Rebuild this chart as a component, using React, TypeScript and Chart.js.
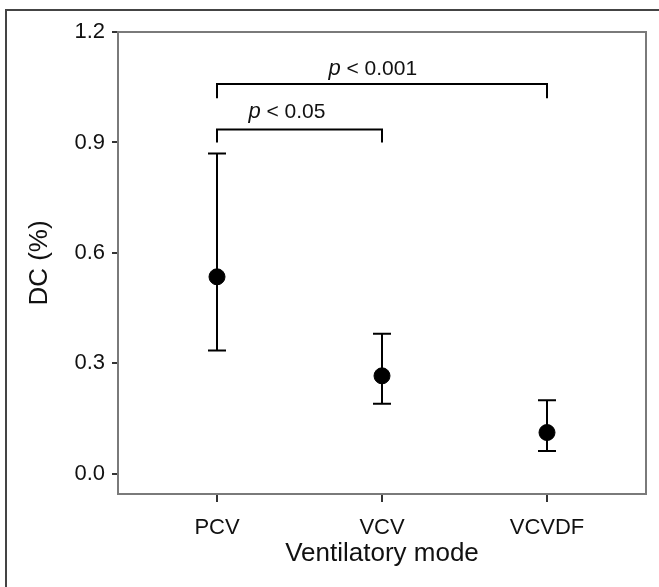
import React, { useEffect, useRef } from 'react';
import { Chart, registerables } from 'chart.js';

Chart.register(...registerables);

// ---- data ----
const categories = ['PCV', 'VCV', 'VCVDF'];
const means = [0.535, 0.266, 0.112];
const upperCI = [0.87, 0.38, 0.2];
const lowerCI = [0.335, 0.19, 0.062];
const yTickValues = [0.0, 0.3, 0.6, 0.9, 1.2];

// significance brackets (category indices, data-unit heights)
const bracketFrom = [0, 0];
const bracketTo = [2, 1];
const bracketLevel = [1.059, 0.935];
const bracketFoot = [1.02, 0.9];
const bracketText = ['< 0.001', '< 0.05'];
const bracketTextX = [1.944, 1.424];
const bracketTextY = [1.084, 0.967];

const FONT = "'Liberation Sans', Arial, Helvetica, sans-serif";

const annotPlugin = {
  id: 'annot',
  beforeDatasetsDraw(chart: any) {
    const { ctx, scales } = chart;
    const x = scales.x;
    const y = scales.y;
    ctx.save();
    ctx.strokeStyle = '#000';
    ctx.lineWidth = 2;
    categories.forEach((_, i) => {
      const px = x.getPixelForValue(i + 1);
      const t = y.getPixelForValue(upperCI[i]);
      const b = y.getPixelForValue(lowerCI[i]);
      ctx.beginPath();
      ctx.moveTo(px, t);
      ctx.lineTo(px, b);
      ctx.moveTo(px - 9, t);
      ctx.lineTo(px + 9, t);
      ctx.moveTo(px - 9, b);
      ctx.lineTo(px + 9, b);
      ctx.stroke();
    });
    ctx.restore();
  },
  afterDraw(chart: any) {
    const { ctx, scales, chartArea } = chart;
    const x = scales.x;
    const y = scales.y;
    ctx.save();
    // plot box
    ctx.strokeStyle = '#7a7a7a';
    ctx.lineWidth = 2;
    ctx.strokeRect(chartArea.left, chartArea.top, chartArea.right - chartArea.left, chartArea.bottom - chartArea.top);

    // brackets
    ctx.strokeStyle = '#000';
    ctx.lineWidth = 2;
    bracketFrom.forEach((f, i) => {
      const x1 = x.getPixelForValue(f + 1);
      const x2 = x.getPixelForValue(bracketTo[i] + 1);
      const yl = y.getPixelForValue(bracketLevel[i]);
      const yf = y.getPixelForValue(bracketFoot[i]);
      ctx.beginPath();
      ctx.moveTo(x1, yf);
      ctx.lineTo(x1, yl);
      ctx.lineTo(x2, yl);
      ctx.lineTo(x2, yf);
      ctx.stroke();

      // label: italic p + rest
      const italic = `italic 22px ${FONT}`;
      const normal = `21px ${FONT}`;
      ctx.font = italic;
      const wp = ctx.measureText('p').width;
      ctx.font = normal;
      const rest = ' ' + bracketText[i];
      const wr = ctx.measureText(rest).width;
      const cx = x.getPixelForValue(bracketTextX[i]);
      const by = y.getPixelForValue(bracketTextY[i]);
      const sx = cx - (wp + wr) / 2;
      ctx.fillStyle = '#111';
      ctx.textBaseline = 'alphabetic';
      ctx.textAlign = 'left';
      ctx.font = italic;
      ctx.fillText('p', sx, by);
      ctx.font = normal;
      ctx.fillText(rest, sx + wp, by);
    });
    ctx.restore();
  },
};

export default function App() {
  const ref = useRef<HTMLCanvasElement | null>(null);

  useEffect(() => {
    if (!ref.current) return;
    const chart = new Chart(ref.current, {
      type: 'scatter',
      data: {
        datasets: [
          {
            data: means.map((m, i) => ({ x: i + 1, y: m })),
            backgroundColor: '#000',
            borderColor: '#000',
            borderWidth: 1,
            pointRadius: 8,
            pointHoverRadius: 8,
          },
        ],
      },
      options: {
        animation: false,
        responsive: false,
        events: [],
        layout: { padding: { left: 0, top: 32, right: 13, bottom: 0 } },
        plugins: { legend: { display: false }, tooltip: { enabled: false } },
        scales: {
          x: {
            type: 'linear',
            min: 0.4,
            max: 3.6,
            afterBuildTicks: (s: any) => {
              s.ticks = categories.map((_, i) => ({ value: i + 1 }));
            },
            afterFit: (s: any) => {
              s.height = 93;
            },
            border: { display: false },
            grid: { drawOnChartArea: false, drawTicks: true, tickLength: 8, color: '#333', lineWidth: 2 },
            ticks: {
              autoSkip: false,
              maxRotation: 0,
              padding: 13,
              color: '#111',
              font: { family: FONT, size: 22 },
              callback: (v: any) => categories[Math.round(Number(v)) - 1] ?? '',
            },
            title: {
              display: true,
              text: 'Ventilatory mode',
              color: '#111',
              font: { family: FONT, size: 26 },
              padding: { top: 0, bottom: 18 },
            },
          },
          y: {
            type: 'linear',
            min: -0.055,
            max: 1.2,
            afterBuildTicks: (s: any) => {
              s.ticks = yTickValues.map((v) => ({ value: v }));
            },
            afterFit: (s: any) => {
              s.width = 118;
            },
            border: { display: false },
            grid: { drawOnChartArea: false, drawTicks: true, tickLength: 6, color: '#333', lineWidth: 2 },
            ticks: {
              padding: 7,
              color: '#111',
              font: { family: FONT, size: 22 },
              callback: (v: any) => Number(v).toFixed(1),
            },
            title: {
              display: true,
              text: 'DC (%)',
              color: '#111',
              font: { family: FONT, size: 26 },
              padding: { top: 24, bottom: 0 },
            },
          },
        },
      },
      plugins: [annotPlugin],
    });
    return () => chart.destroy();
  }, []);

  return (
    <div
      style={{
        position: 'fixed',
        left: 0,
        top: 0,
        width: 659,
        height: 587,
        overflow: 'hidden',
        background: '#fff',
      }}
    >
      <div
        style={{
          position: 'absolute',
          left: 5,
          top: 9,
          width: 700,
          height: 700,
          border: '2px solid #444',
          boxSizing: 'border-box',
        }}
      />
      <canvas ref={ref} width={659} height={587} style={{ position: 'absolute', left: 0, top: 0, width: 659, height: 587 }} />
    </div>
  );
}
